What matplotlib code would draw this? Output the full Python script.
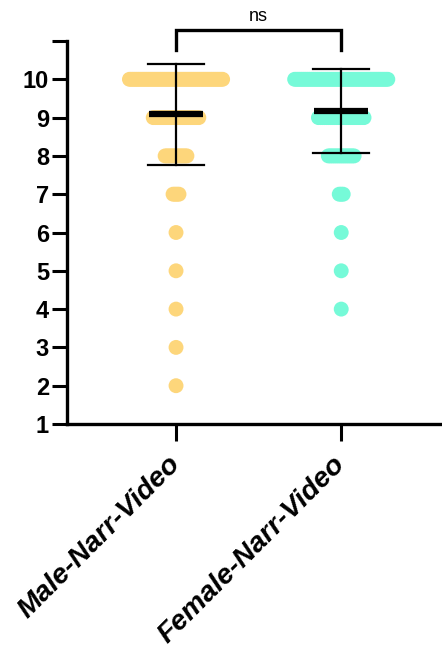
import matplotlib
matplotlib.use("Agg")
import matplotlib.pyplot as plt
import numpy as np

# scores and how many subjects gave each score
groups = ["Male-Narr-Video", "Female-Narr-Video"]
scores = [10, 9, 8, 7, 6, 5, 4, 3, 2]
male_counts = [48, 24, 12, 4, 1, 1, 1, 1, 1]
female_counts = [48, 24, 14, 3, 1, 1, 1, 0, 0]
means = [9.09, 9.17]
sds = [1.32, 1.09]
colors = ["#FDD67B", "#76FAD8"]

plt.rcParams["font.family"] = ["Liberation Sans", "DejaVu Sans"]

fig = plt.figure(figsize=(4.42, 6.47), dpi=100)
ax = fig.add_axes([67 / 442, 1 - 424 / 647, 1 - 67 / 442, (424 - 41) / 647])

step = 0.012
for i, counts in enumerate([male_counts, female_counts]):
    for val, n in zip(scores, counts):
        if n == 0:
            continue
        xs = i + (np.arange(n) - (n - 1) / 2) * step
        ax.scatter(xs, np.full(n, val), s=115, color=colors[i],
                   edgecolors="none", zorder=2)
    m, sd = means[i], sds[i]
    ax.plot([i, i], [m - sd, m + sd], color="black", lw=1.6, zorder=3)
    for y in (m - sd, m + sd):
        ax.plot([i - 0.168, i + 0.168], [y, y], color="black", lw=1.6, zorder=3)
    ax.plot([i - 0.163, i + 0.163], [m, m], color="black", lw=4.5,
            solid_capstyle="butt", zorder=4)

# significance bracket
ax.plot([0, 0, 1, 1], [10.76, 11.3, 11.3, 10.76], color="black", lw=2.4,
        clip_on=False, solid_joinstyle="miter")
ax.text(0.5, 11.42, "ns", ha="center", va="bottom", fontsize=13)

ax.set_xlim(-0.66, 1.61)
ax.set_ylim(1, 11)
ax.set_yticks(range(1, 12))
ax.set_yticklabels([str(v) for v in range(1, 11)] + [""],
                   fontsize=17, fontweight="bold")
ax.set_xticks([0, 1])
ax.set_xticklabels(groups, rotation=45, ha="right", va="center",
                   rotation_mode="anchor",
                   fontsize=20.5, fontweight="bold", fontstyle="italic")
ax.tick_params(axis="y", length=11, width=2.2, pad=2)
ax.tick_params(axis="x", length=12, width=2.2, pad=14)
for side in ("top", "right"):
    ax.spines[side].set_visible(False)
for side in ("left", "bottom"):
    ax.spines[side].set_linewidth(2.4)

fig.savefig("out.png", dpi=100)
